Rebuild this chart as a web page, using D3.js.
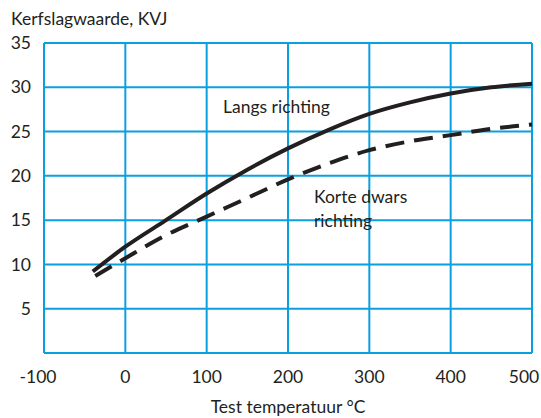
<!DOCTYPE html>
<html>
<head>
<meta charset="utf-8">
<script src="https://cdn.jsdelivr.net/npm/d3@7"></script>
<style>
  body { margin: 0; background: #fff; }
  svg { display: block; }
  text { font-family: Lato, "Open Sans", sans-serif; fill: #231f20; }
</style>
</head>
<body>
<svg width="541" height="418"></svg>
<script>
// temperatures (°C) and impact values (KVJ)
var temps = [-40, 0, 50, 100, 150, 200, 250, 300, 350, 400, 450, 500];
var langs = [9.2, 12.0, 15.0, 18.0, 20.7, 23.1, 25.2, 27.0, 28.3, 29.3, 30.0, 30.4];
var tempsDwars = [-37, 0, 50, 100, 150, 200, 250, 300, 350, 400, 450, 500];
var dwars = [8.7, 10.7, 13.3, 15.4, 17.5, 19.6, 21.4, 22.9, 23.9, 24.6, 25.3, 25.8];
var xTicks = [-100, 0, 100, 200, 300, 400, 500];
var yTicks = [5, 10, 15, 20, 25, 30, 35];

var svg = d3.select("svg"),
    margin = {top: 43, right: 9, bottom: 65, left: 44},
    width = +svg.attr("width") - margin.left - margin.right,
    height = +svg.attr("height") - margin.top - margin.bottom,
    g = svg.append("g").attr("transform", "translate(" + margin.left + "," + margin.top + ")");

var x = d3.scaleLinear().domain([-100, 500]).range([0, width]);
var y = d3.scaleLinear().domain([0, 35]).range([height, 0]);

var gridColor = "#0aa0e0";

// vertical grid
g.append("g")
  .selectAll("line")
  .data(xTicks)
  .enter().append("line")
    .attr("x1", function(d) { return x(d); })
    .attr("x2", function(d) { return x(d); })
    .attr("y1", 0)
    .attr("y2", height)
    .attr("stroke", gridColor)
    .attr("stroke-width", 2);

// horizontal grid (0 is the bottom edge)
g.append("g")
  .selectAll("line")
  .data([0].concat(yTicks))
  .enter().append("line")
    .attr("x1", 0)
    .attr("x2", width)
    .attr("y1", function(d) { return y(d); })
    .attr("y2", function(d) { return y(d); })
    .attr("stroke", gridColor)
    .attr("stroke-width", 2);

// tick labels
g.append("g")
  .selectAll("text")
  .data(yTicks)
  .enter().append("text")
    .attr("x", -13)
    .attr("y", function(d) { return y(d); })
    .attr("dy", "0.35em")
    .attr("text-anchor", "end")
    .style("font-size", "17.5px")
    .text(function(d) { return d; });

g.append("g")
  .selectAll("text")
  .data(xTicks)
  .enter().append("text")
    .attr("x", function(d, i) {
      if (i === 0) return x(d) - 6;
      if (i === xTicks.length - 1) return x(d) - 8;
      return x(d);
    })
    .attr("y", height + 30)
    .attr("text-anchor", "middle")
    .style("font-size", "17.5px")
    .text(function(d) { return d; });

svg.append("text")
  .attr("x", 11)
  .attr("y", 25)
  .style("font-size", "17.5px")
  .text("Kerfslagwaarde, KVJ");

svg.append("text")
  .attr("x", margin.left + x(200))
  .attr("y", 413)
  .attr("text-anchor", "middle")
  .style("font-size", "17.5px")
  .text("Test temperatuur \u00b0C");

var line = d3.line()
    .x(function(d) { return x(d[0]); })
    .y(function(d) { return y(d[1]); })
    .curve(d3.curveMonotoneX);

g.append("path")
  .datum(d3.zip(temps, langs))
  .attr("d", line)
  .attr("fill", "none")
  .attr("stroke", "#231f20")
  .attr("stroke-width", 4);

g.append("path")
  .datum(d3.zip(tempsDwars, dwars))
  .attr("d", line)
  .attr("fill", "none")
  .attr("stroke", "#231f20")
  .attr("stroke-width", 4)
  .attr("stroke-dasharray", "19,10");

// curve labels
var labels = g.append("g")
  .style("font-size", "17.5px");

labels.append("text")
  .attr("x", 179)
  .attr("y", 70)
  .text("Langs richting");

labels.append("text")
  .attr("x", 270)
  .attr("y", 160)
  .text("Korte dwars");

labels.append("text")
  .attr("x", 270)
  .attr("y", 184)
  .text("richting");
</script>
</body>
</html>
